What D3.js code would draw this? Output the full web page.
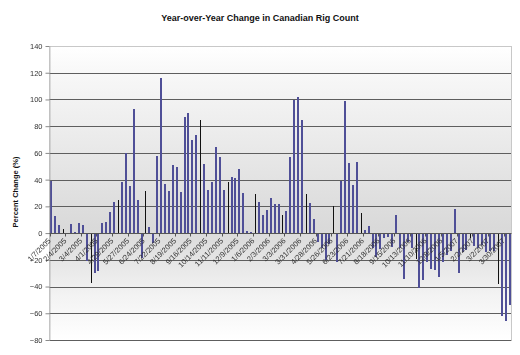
<!DOCTYPE html>
<html><head><meta charset="utf-8">
<script src="https://cdn.jsdelivr.net/npm/d3@7"></script>
<style>
html,body{margin:0;padding:0;background:#fff;}
svg{display:block;font-family:"Liberation Sans",Arial,sans-serif;}
.gs{opacity:0.999;will-change:transform;}
</style></head>
<body><svg id="chart" width="520" height="355"></svg>
<script>
// ---- data ----
const title = "Year-over-Year Change in Canadian Rig Count";
const yTitle = "Percent Change (%)";
const startDate = "2005-01-07"; // weekly categories
const values = [
 39,12.5,6,3,-1,7,0.5,7.7,6,-21,-37,-30,-28,7.5,8,16,23,25,38,60,
 35,92.7,24.7,-19,31.4,4.2,-7.7,57.5,116.3,37,31.4,50.6,49.8,30.4,86.7,89.5,70,73.2,84.7,51.6,
 31.9,38.1,64.3,56.6,31.9,38.1,42,41,48,29.9,1.8,0.5,28.9,23,13.4,17.4,26.4,21.7,21.7,13.2,
 16.2,56.8,99.9,101.9,84.7,29.1,22.4,10.5,-6.5,-11.5,-20,-8,20.4,-21.4,38.9,99,52.6,35.9,53,15.4,
 2.2,5.2,-11.5,-18.2,-12.2,-4,-2.7,-10.2,13.5,-11.5,-34.6,-6.5,-11,-19.7,-41.3,-35.1,-21.4,-26.9,-27.6,-32.6,
 -21.4,-16.4,-13.5,17.7,-30.1,-14,-12.7,-4,-9.7,-11.2,-9,-14,-13.5,-13.2,-38.4,-62,-65.5,-53.8
];
const tickLabels = ["1/7/2005","2/4/2005","3/4/2005","4/1/2005","4/29/2005","5/27/2005","6/24/2005",
 "7/22/2005","8/19/2005","9/16/2005","10/14/2005","11/11/2005","12/9/2005","1/6/2006","2/3/2006",
 "3/3/2006","3/31/2006","4/28/2006","5/26/2006","6/23/2006","7/21/2006","8/18/2006","9/15/2006",
 "10/13/2006","11/10/2006","12/8/2006","1/5/2007","2/2/2007","3/2/2007","3/30/2007"];
const yTicks = [-80,-60,-40,-20,0,20,40,60,80,100,120,140];
// bars that render as thin dark lines in the original picture (style only)
const darkBars = [3,10,17,24,38,45,52,59,65,72,79,93,107,114];

// ---- build ----
const parse = d3.timeParse("%Y-%m-%d");
const fmt = d => (d.getMonth()+1)+"/"+d.getDate()+"/"+d.getFullYear();
const start = parse(startDate);
const categories = values.map((v,i) => fmt(d3.timeDay.offset(start, 7*i)));

const svg = d3.select("#chart");
const L = 49.5, R = 511.5, T = 46, B = 340;

const x = d3.scaleBand().domain(categories).range([L, R]).padding(0);
const y = d3.scaleLinear().domain([-80, 140]).range([B, T]);

const defs = svg.append("defs");
const grad = defs.append("linearGradient").attr("id","bg")
  .attr("x1",0).attr("y1",0).attr("x2",0).attr("y2",1);
[[0,"#ffffff"],[0.12,"#f6f6f6"],[0.62,"#d9d9d9"],[0.85,"#f3f3f3"],[1,"#ffffff"]]
  .forEach(s => grad.append("stop").attr("offset",s[0]).attr("stop-color",s[1]));

svg.append("rect").attr("x",L).attr("y",T).attr("width",R-L).attr("height",B-T)
  .attr("fill","url(#bg)");

// gridlines
svg.append("g").selectAll("line").data(yTicks.filter(v => v < 140)).join("line")
  .attr("x1",L).attr("x2",R).attr("y1",d=>Math.round(y(d))+0.5).attr("y2",d=>Math.round(y(d))+0.5)
  .attr("stroke","#5e5e5e").attr("stroke-width",1);
// plot border top / right
svg.append("line").attr("x1",L).attr("x2",R).attr("y1",Math.round(y(140))+0.5).attr("y2",Math.round(y(140))+0.5)
  .attr("stroke","#c8c8c8");
svg.append("line").attr("x1",R).attr("x2",R).attr("y1",T).attr("y2",B+0.5).attr("stroke","#c8c8c8");

// bars
const darkSet = new Set(darkBars);
svg.append("g").attr("shape-rendering","crispEdges").selectAll("rect")
  .data(values.map((v,i)=>({v,i,c:categories[i]}))).join("rect")
  .attr("x", d => Math.round(x(d.c) + x.bandwidth()/2) - (darkSet.has(d.i)?0:1))
  .attr("width", d => darkSet.has(d.i) ? 1 : 2)
  .attr("y", d => y(Math.max(0,d.v)))
  .attr("height", d => Math.abs(y(d.v) - y(0)))
  .attr("fill", d => darkSet.has(d.i) ? "#111111" : "#4f4f97");

// y axis
const yAxis = svg.append("g").attr("class","gs").attr("transform",`translate(${L},0)`)
  .call(d3.axisLeft(y).tickValues(yTicks).tickSize(4).tickPadding(3).tickSizeOuter(0));
yAxis.select(".domain").attr("stroke","#8a8a8a");
yAxis.selectAll(".tick line").attr("stroke","#8a8a8a");
yAxis.selectAll("text").attr("font-size","7.5px").attr("fill","#333")
  .attr("font-family",'"Liberation Sans",Arial,sans-serif');

// x axis at zero
const y0 = Math.round(y(0))+0.5;
svg.append("line").attr("x1",L).attr("x2",R).attr("y1",y0).attr("y2",y0).attr("stroke","#555");
const labelled = categories.filter(c => tickLabels.includes(c));
svg.append("g").selectAll("line").data(labelled).join("line")
  .attr("x1",d=>Math.round(x(d))+0.5).attr("x2",d=>Math.round(x(d))+0.5)
  .attr("y1",y0).attr("y2",y0+3).attr("stroke","#555");
svg.append("g").attr("class","gs").selectAll("text").data(labelled).join("text")
  .attr("transform", d => `translate(${x(d)+x.bandwidth()/2-2},${y0+6}) rotate(-45)`)
  .attr("text-anchor","end").attr("dy","0.35em")
  .attr("font-size","7.5px").attr("fill","#333")
  .text(d => d);

// titles
svg.append("text").attr("x",260).attr("y",21).attr("text-anchor","middle")
  .attr("font-size","9px").attr("font-weight","bold").attr("fill","#111").text(title);
svg.append("text").attr("transform","translate(18,192) rotate(-90)").attr("text-anchor","middle")
  .attr("font-size","7.5px").attr("font-weight","bold").attr("fill","#111").text(yTitle);
</script></body></html>
